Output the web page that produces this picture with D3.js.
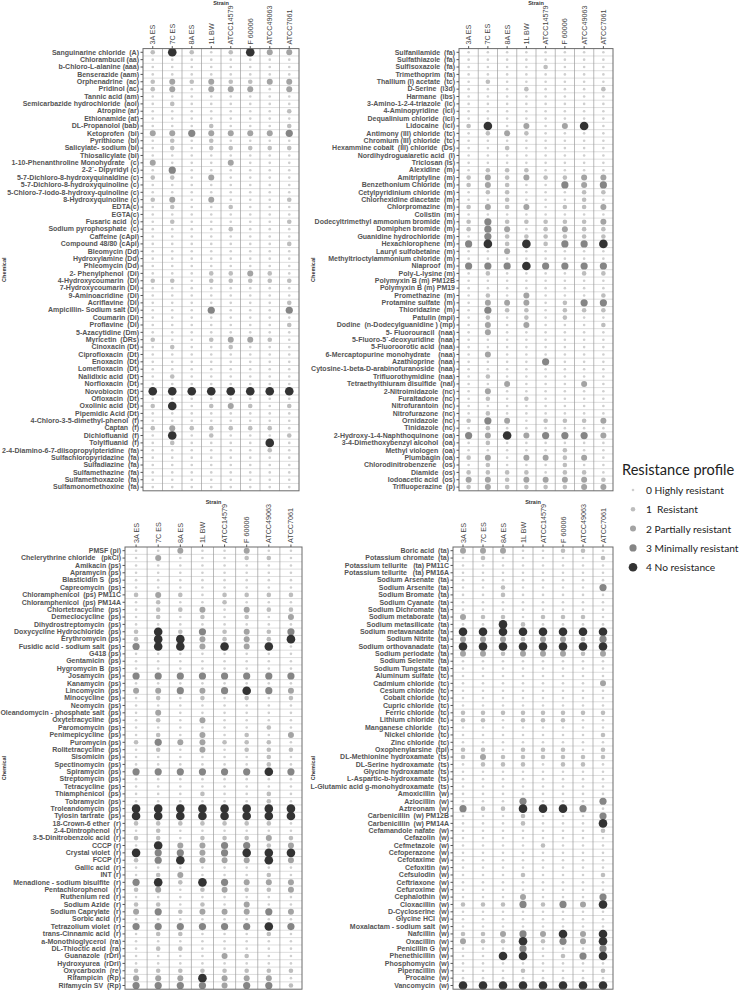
<!DOCTYPE html>
<html>
<head>
<meta charset="utf-8">
<script src="https://cdn.jsdelivr.net/npm/d3@7"></script>
<style>
  body { margin: 0; background: #fff; }
  text { font-family: "Liberation Sans", Arial, sans-serif; }
</style>
</head>
<body>
<div id="chart"></div>
<script>
//// data
var strains = ["3A ES", "7C ES", "8A ES", "1L BW", "ATCC14579", "F 60006", "ATCC49063", "ATCC7061"];

var levels = [0, 1, 2, 3, 4];
var levelLabels = ["Highly resistant", " Resistant", "Partially resistant", "Minimally resistant", "No resistance"];

// top left
var chemA = ["Sanguinarine chloride  (A)", "Chlorambucil (aa)", "b-Chloro-L-alanine (aaa)", "Benserazide (aam)",
  "Orphenadrine  (ac)", "Pridinol (ac)", "Tannic acid (am)", "Semicarbazide hydrochloride  (aoi)", "Atropine (ar)",
  "Ethionamide (at)", "DL-Propanolol (bab)", "Ketoprofen  (bi)", "Pyrithione  (bi)", "Salicylate- sodium (bi)",
  "Thiosalicylate (bi)", "1-10-Phenanthroline Monohydrate   (c)", "2-2`- Dipyridyl (c)",
  "5-7-Dichloro-8-hydroxyquinaldine (c)", "5-7-Dichloro-8-hydroxyquinoline (c)",
  "5-Chloro-7-iodo-8-hydroxy-quinoline (c)", "8-Hydroxyquinoline (c)", "EDTA(c)", "EGTA(c)", "Fusaric acid  (c)",
  "Sodium pyrophosphate  (c)", "Caffeine (cApi)", "Compound 48/80 (cApi)", "Bleomycin (Dd)", "Hydroxylamine (Dd)",
  "Phleomycin (Dd)", "2- Phenylphenol  (Di)", "4-Hydroxycoumarin  (Di)", "7-Hydroxycoumarin (Di)",
  "9-Aminoacridine  (Di)", "Acriflavine  (Di)", "Ampicillin- Sodium salt (Di)", "Coumarin (Di)", "Proflavine  (Di)",
  "5-Azacytidine (Dm)", "Myricetin  (DRs)", "Cinoxacin (Dt)", "Ciprofloxacin  (Dt)", "Enoxacin  (Dt)",
  "Lomefloxacin  (Dt)", "Nalidixic acid  (Dt)", "Norfloxacin  (Dt)", "Novobiocin  (Dt)", "Ofloxacin  (Dt)",
  "Oxolinic acid  (Dt)", "Pipemidic Acid (Dt)", "4-Chloro-3-5-dimethyl-phenol  (f)", "Captan  (f)",
  "Dichlofluanid  (f)", "Tolylfluanid  (f)", "2-4-Diamino-6-7-diisopropylpteridine  (fa)",
  "Sulfachloropyridazine  (fa)", "Sulfadiazine  (fa)", "Sulfamethazine  (fa)", "Sulfamethoxazole  (fa)",
  "Sulfamonomethoxine  (fa)"];
var valsA = [
  [1,4,1,0,1,4,2,2],[0,0,0,0,0,0,0,0],[0,0,0,0,0,0,0,0],[0,0,0,0,0,0,0,0],[1,2,1,2,1,1,2,2],
  [1,2,0,2,2,2,0,2],[0,0,0,0,0,0,0,0],[0,1,0,0,0,0,0,0],[0,0,0,0,0,0,0,1],[0,0,0,0,0,0,0,0],
  [0,0,0,1,0,0,0,1],[2,2,3,2,2,2,2,3],[0,1,0,1,0,0,0,0],[0,1,0,1,1,1,1,1],[0,0,0,0,0,0,0,0],
  [2,0,0,0,2,0,0,0],[0,3,0,0,0,0,0,0],[1,1,0,2,0,0,0,0],[0,0,0,0,0,0,0,0],[0,0,0,0,0,0,0,0],
  [1,2,0,2,0,0,0,1],[0,1,0,0,1,0,0,0],[0,0,0,0,0,0,0,0],[0,1,0,0,0,0,0,1],[0,0,0,0,1,0,0,0],
  [0,0,0,0,0,0,0,0],[0,0,0,0,0,0,0,1],[0,0,0,0,0,0,0,0],[0,0,0,0,0,0,0,0],[0,0,0,0,0,0,0,0],
  [0,0,0,1,1,2,1,0],[1,1,0,1,1,1,1,1],[0,0,0,0,0,0,0,0],[0,0,0,0,0,0,0,0],[0,0,0,0,0,0,0,1],
  [0,0,0,3,0,0,0,3],[0,0,0,0,0,0,0,0],[0,0,0,0,0,0,0,1],[0,0,0,0,0,0,0,0],[1,0,0,1,2,2,1,0],
  [0,1,0,0,1,0,0,0],[0,0,0,0,0,0,0,0],[0,0,0,0,0,0,0,0],[0,0,0,0,0,0,0,0],[0,1,0,0,0,0,0,0],
  [0,0,0,0,0,0,0,0],[4,4,4,4,4,4,4,4],[0,0,0,0,0,0,0,0],[1,4,0,1,2,1,0,1],[0,0,0,0,0,0,0,0],
  [0,0,0,0,0,0,0,0],[1,2,1,1,1,1,1,0],[0,4,0,1,0,0,0,1],[0,1,0,0,0,0,4,0],[0,0,0,0,0,0,1,0],
  [0,0,0,0,0,0,0,0],[0,0,0,0,0,0,0,0],[0,0,0,0,0,0,0,0],[0,0,0,0,0,0,0,0],[0,0,0,0,0,0,0,0]
];

// top right
var chemB = ["Sulfanilamide  (fa)", "Sulfathiazole  (fa)", "Sulfisoxazole  (fa)", "Trimethoprim  (fa)",
  "Thallium (I) acetate  (tc)", "D-Serine  (i3d)", "Harmane  (ibs)", "3-Amino-1-2-4-triazole  (ic)",
  "4-Aminopyridine  (ici)", "Dequalinium chloride  (ici)", "Lidocaine  (ici)", "Antimony (III) chloride  (tc)",
  "Chromium (III) chloride  (tc)", "Hexammine cobalt  (III) chloride  (Ds)", "Nordihydroguaiaretic acid  (I)",
  "Triclosan (Is)", "Alexidine  (m)", "Amitriptyline  (m)", "Benzethonium Chloride  (m)",
  "Cetylpyridinium chloride  (m)", "Chlorhexidine diacetate  (m)", "Chlorpromazine  (m)", "Colistin  (m)",
  "Dodecyltrimethyl ammonium bromide  (m)", "Domiphen bromide  (m)", "Guanidine hydrochloride  (m)",
  "Hexachlorophene  (m)", "Lauryl sulfobetaine  (m)", "Methyltrioctylammonium chloride  (m)", "Niaproof  (m)",
  "Poly-L-lysine (m)", "Polymyxin B (m) PM12B", "Polymyxin B (m) PM19", "Promethazine  (m)",
  "Protamine sulfate  (m)", "Thioridazine  (m)", "Patulin (mpi)", "Dodine  (n-Dodecylguanidine ) (mp)",
  "5- Fluorouracil  (naa)", "5-Fluoro-5`-deoxyuridine  (naa)", "5-Fluoroorotic acid  (naa)",
  "6-Mercaptopurine monohydrate    (naa)", "Azathioprine  (naa)", "Cytosine-1-beta-D-arabinofuranoside  (naa)",
  "Trifluorothymidine  (naa)", "Tetraethylthiuram disulfide  (nal)", "2-Nitroimidazole  (nc)", "Furaltadone  (nc)",
  "Nitrofurantoin  (nc)", "Nitrofurazone  (nc)", "Ornidazole  (nc)", "Tinidazole  (nc)",
  "2-Hydroxy-1-4-Naphthoquinone  (oa)", "3-4-Dimethoxybenzyl alcohol  (oa)", "Methyl viologen  (oa)",
  "Plumbagin (oa)", "Chlorodinitrobenzene   (os)", "Diamide  (os)", "Iodoacetic acid  (os)", "Trifluoperazine  (p)"];
var valsB = [
  [0,0,0,0,0,0,0,0],[0,0,0,0,0,0,0,0],[0,0,0,0,1,0,0,0],[0,0,0,0,0,0,0,0],[0,1,0,0,0,0,0,0],
  [0,0,0,1,0,0,0,1],[0,0,0,0,0,0,0,0],[0,0,0,0,0,0,0,0],[0,0,0,0,0,0,0,0],[0,0,0,0,0,0,0,0],
  [1,4,0,2,0,2,4,0],[0,1,2,1,0,0,0,0],[0,0,0,0,0,0,0,0],[0,0,1,0,0,0,0,0],[0,0,0,0,0,0,0,0],
  [0,0,0,0,0,0,0,0],[0,1,1,1,0,0,0,0],[1,2,1,2,1,1,2,2],[1,2,1,0,0,3,2,3],[0,1,1,0,0,0,1,1],
  [0,0,1,0,0,0,1,0],[1,2,1,2,0,1,1,2],[0,0,0,0,0,0,0,0],[1,3,1,1,1,1,1,2],[1,3,2,0,1,2,1,1],
  [0,3,1,1,1,1,1,1],[3,4,1,4,1,3,3,4],[0,0,2,0,0,0,0,0],[0,0,0,0,0,0,0,0],[3,3,3,4,3,3,3,3],
  [0,1,0,0,0,0,1,1],[0,0,0,0,0,0,0,0],[0,0,0,0,0,0,0,0],[0,1,0,2,0,0,0,1],[0,2,2,2,0,1,3,3],
  [0,3,1,1,0,1,1,1],[0,1,0,1,0,1,0,0],[0,2,0,2,0,0,0,1],[0,2,0,0,0,0,0,0],[0,0,0,0,0,0,0,0],
  [0,0,0,0,0,0,0,0],[0,2,0,0,0,0,0,0],[0,0,0,0,3,0,0,0],[0,0,0,0,0,0,0,0],[0,1,0,0,0,0,0,0],
  [0,0,2,0,0,0,2,0],[0,2,0,0,0,0,0,0],[0,1,0,1,0,0,0,0],[0,0,0,0,0,0,0,0],[0,1,0,0,0,0,0,0],
  [1,3,2,0,1,1,1,2],[0,1,0,0,0,0,0,0],[3,2,4,2,3,3,3,2],[0,1,0,0,0,0,0,0],[0,0,0,0,0,1,0,0],
  [1,2,0,2,2,1,2,0],[0,1,0,0,0,1,0,0],[1,1,1,1,0,1,1,0],[2,2,1,2,2,2,2,1],[1,2,1,1,1,1,2,2]
];

// bottom left
var chemC = ["PMSF (pi)", "Chelerythrine chloride   (pkCi)", "Amikacin (ps)", "Apramycin (ps)", "Blasticidin S  (ps)",
  "Capreomycin  (ps)", "Chloramphenicol  (ps) PM11C", "Chloramphenicol  (ps) PM14A", "Chlortetracycline  (ps)",
  "Demeclocycline  (ps)", "Dihydrostreptomycin  (ps)", "Doxycycline Hydrochloride  (ps)", "Erythromycin (ps)",
  "Fusidic acid - sodium salt  (ps)", "G418 (ps)", "Gentamicin  (ps)", "Hygromycin B  (ps)", "Josamycin  (ps)",
  "Kanamycin  (ps)", "Lincomycin  (ps)", "Minocycline  (ps)", "Neomycin  (ps)", "Oleandomycin - phosphate salt  (ps)",
  "Oxytetracycline  (ps)", "Paromomycin  (ps)", "Penimepicycline  (ps)", "Puromycin (ps)", "Rolitetracycline  (ps)",
  "Sisomicin  (ps)", "Spectinomycin  (ps)", "Spiramycin  (ps)", "Streptomycin  (ps)", "Tetracycline  (ps)",
  "Thiamphenicol  (ps)", "Tobramycin  (ps)", "Troleandomycin  (ps)", "Tylosin tartrate  (ps)",
  "18-Crown-6 ether  (r)", "2-4-Dintrophenol  (r)", "3-5-Dinitrobenzoic acid  (r)", "CCCP (r)",
  "Crystal violet  (r)", "FCCP (r)", "Gallic acid  (r)", "INT (r)", "Menadione - sodium bisulfite  (r)",
  "Pentachlorophenol   (r)", "Ruthenium red  (r)", "Sodium Azide  (r)", "Sodium Caprylate  (r)",
  "Sorbic acid  (r)", "Tetrazolium violet  (r)", "trans-Cinnamic acid  (r)", "a-Monothioglycerol  (ra)",
  "DL-Thioctic acid  (ra)", "Guanazole  (rDri)", "Hydroxyurea  (rDri)", "Oxycarboxin  (re)", "Rifampicin  (Rp)",
  "Rifamycin SV  (Rp)"];
var valsC = [
  [0,0,2,0,0,2,0,0],[0,2,0,0,0,1,1,0],[0,0,0,0,0,0,0,0],[0,0,0,0,0,0,0,0],[0,0,0,0,0,0,0,0],
  [0,0,0,0,0,0,0,0],[1,2,1,0,1,1,1,1],[0,1,0,0,1,0,0,0],[0,1,1,2,0,2,1,1],[0,1,0,1,0,1,0,2],
  [0,0,0,0,0,0,0,0],[1,4,1,3,1,2,1,3],[1,4,4,2,1,2,1,4],[3,4,4,2,4,2,4,0],[0,0,0,0,0,0,0,0],
  [0,0,0,0,0,0,0,0],[0,0,0,0,0,0,0,0],[3,3,3,3,3,3,3,3],[0,0,0,0,0,0,0,0],[2,2,3,2,3,4,3,2],
  [0,1,0,1,0,1,0,1],[0,0,0,0,0,0,0,0],[0,2,0,0,0,0,0,0],[0,1,0,2,0,0,0,0],[0,0,0,0,0,0,1,0],
  [0,1,0,2,0,1,0,2],[1,3,2,2,1,1,1,0],[0,1,0,2,0,1,1,1],[0,0,0,0,0,0,1,0],[0,0,0,0,0,0,1,0],
  [3,3,3,3,3,3,4,3],[0,0,0,0,0,0,0,0],[0,0,0,0,0,0,0,0],[0,0,0,1,0,0,1,0],[0,0,0,0,0,0,1,0],
  [4,4,4,4,4,4,4,4],[4,4,4,4,4,4,4,4],[1,1,1,1,1,1,1,0],[0,1,0,0,0,0,0,0],[1,1,0,1,1,1,2,1],
  [0,4,2,2,3,3,1,2],[4,3,3,2,3,4,4,4],[1,3,4,2,2,2,4,2],[0,0,0,0,0,0,0,0],[0,1,2,0,0,0,1,0],
  [3,4,1,4,3,2,2,2],[1,2,0,1,2,1,1,2],[0,0,0,0,0,0,0,0],[1,1,0,1,0,2,0,0],[2,3,1,2,2,2,3,2],
  [0,0,0,0,0,0,0,0],[3,3,3,3,3,3,4,3],[0,1,1,0,0,0,1,0],[0,0,0,0,0,0,0,0],[0,1,1,0,0,0,0,0],
  [0,0,0,0,2,1,0,0],[0,0,0,0,0,0,0,0],[1,1,1,1,1,1,1,1],[2,2,2,4,2,2,2,0],[3,3,3,3,2,3,3,1]
];

// bottom right
var chemD = ["Boric acid  (ta)", "Potassium chromate  (ta)", "Potassium tellurite   (ta) PM11C",
  "Potassium tellurite   (ta) PM16A", "Sodium Arsenate  (ta)", "Sodium Arsenite  (ta)", "Sodium Bromate  (ta)",
  "Sodium Cyanate  (ta)", "Sodium Dichromate  (ta)", "Sodium metaborate  (ta)", "Sodium metasilicate  (ta)",
  "Sodium metavanadate  (ta)", "Sodium Nitrite  (ta)", "Sodium orthovanadate  (ta)", "Sodium periodate  (ta)",
  "Sodium Selenite  (ta)", "Sodium Tungstate  (ta)", "Aluminum sulfate  (tc)", "Cadmium chloride  (tc)",
  "Cesium chloride  (tc)", "Cobalt chloride  (tc)", "Cupric chloride  (tc)", "Ferric chloride  (tc)",
  "Lithium chloride  (tc)", "Manganese chloride   (tc)", "Nickel chloride  (tc)", "Zinc chloride  (tc)",
  "Oxophenylarsine  (tpi)", "DL-Methionine hydroxamate  (ts)", "DL-Serine hydroxamate  (ts)",
  "Glycine hydroxamate  (ts)", "L-Aspartic-b-hydroxamate  (ts)", "L-Glutamic acid g-monohydroxamate  (ts)",
  "Amoxicillin  (w)", "Azlocillin  (w)", "Aztreonam  (w)", "Carbenicillin  (w) PM12B", "Carbenicillin  (w) PM14A",
  "Cefamandole nafate  (w)", "Cefazolin  (w)", "Cefmetazole  (w)", "Cefoperazone  (w)", "Cefotaxime  (w)",
  "Cefoxitin  (w)", "Cefsulodin  (w)", "Ceftriaxone  (w)", "Cefuroxime  (w)", "Cephalothin  (w)",
  "Cloxacillin  (w)", "D-Cycloserine  (w)", "Glycine HCl  (w)", "Moxalactam - sodium salt  (w)",
  "Nafcillin  (w)", "Oxacillin  (w)", "Penicillin G  (w)", "Phenethicillin  (w)", "Phosphomycin  (w)",
  "Piperacillin  (w)", "Procaine  (w)", "Vancomycin  (w)"];
var valsD = [
  [2,2,2,0,0,1,1,0],[0,1,0,0,0,0,0,1],[0,0,0,0,0,0,0,0],[0,0,0,0,0,0,0,0],[0,0,0,0,0,0,0,0],
  [0,0,1,0,0,0,0,3],[0,0,1,0,0,0,0,0],[0,0,0,0,0,0,0,0],[0,0,0,0,0,0,0,0],[2,1,1,0,1,1,1,0],
  [0,0,4,1,0,0,0,0],[4,4,4,4,4,4,4,4],[2,2,2,1,2,2,1,3],[4,4,4,4,4,4,4,4],[2,2,1,2,2,2,1,2],
  [0,0,0,0,0,0,0,0],[0,0,0,0,0,0,0,0],[0,0,0,0,0,0,0,0],[0,0,0,0,0,0,0,2],[0,0,0,0,0,0,0,0],
  [0,0,0,0,0,0,0,0],[0,0,0,0,0,0,0,0],[1,1,1,1,1,1,1,1],[1,1,0,1,1,1,0,0],[0,0,0,0,0,0,0,0],
  [0,0,0,0,0,0,0,1],[0,0,0,0,0,0,0,0],[1,1,0,1,1,1,0,1],[1,2,1,1,1,1,1,1],[0,1,1,1,0,1,1,0],
  [0,0,0,0,0,0,0,0],[0,0,0,0,0,0,0,0],[0,0,0,0,0,0,0,0],[0,0,0,0,0,0,0,0],[0,0,0,3,0,0,0,3],
  [3,1,1,4,4,4,3,0],[0,0,0,1,0,0,0,3],[0,0,0,1,0,0,0,4],[0,0,0,0,0,0,0,1],[0,0,0,0,0,0,0,0],
  [0,0,0,0,1,0,0,0],[0,0,0,0,0,0,0,0],[0,0,0,0,0,0,0,0],[0,0,0,0,0,0,0,0],[0,0,0,1,0,0,0,1],
  [0,0,0,0,0,0,0,0],[0,0,0,0,0,0,0,0],[0,0,0,2,0,0,0,3],[1,1,1,3,1,3,2,4],[0,0,0,0,0,0,0,0],
  [0,0,0,0,0,0,0,0],[0,0,0,0,0,0,0,0],[1,1,2,3,2,4,2,4],[2,1,1,4,1,3,2,4],[0,0,0,3,0,0,0,3],
  [0,0,4,4,0,1,3,4],[0,0,0,0,0,0,0,0],[0,0,0,1,0,0,0,1],[0,0,0,0,0,0,0,0],[4,4,4,4,4,4,4,4]
];

//// chart
var width = 742, height = 991;

var svg = d3.select("#chart")
  .append("svg")
    .attr("width", width)
    .attr("height", height);

var rScale = d3.scaleOrdinal().domain(levels).range([1.3, 2.3, 3.0, 3.6, 4.3]);
var color = d3.scaleOrdinal().domain(levels).range(["#cfcfcf", "#bdbdbd", "#a3a3a3", "#858585", "#333333"]);

// panel placement
var panels = [
  {chem: chemA, vals: valsA, x0: 143, x1: 299, y0: 48.6, y1: 490.8, titleX: 4},
  {chem: chemB, vals: valsB, x0: 459, x1: 613, y0: 48.6, y1: 490.8, titleX: 313},
  {chem: chemC, vals: valsC, x0: 125, x1: 302, y0: 547, y1: 989.2, titleX: 4},
  {chem: chemD, vals: valsD, x0: 453, x1: 613, y0: 547, y1: 989.2, titleX: 313}
];

panels.forEach(function(p) {
  var x = d3.scaleBand().domain(strains).range([p.x0, p.x1]);
  var y = d3.scaleBand().domain(p.chem).range([p.y0, p.y1]);
  var g = svg.append("g");

  // row lines
  g.selectAll(".hline")
      .data(p.chem.slice(1))
    .enter().append("line")
      .attr("x1", p.x0).attr("x2", p.x1)
      .attr("y1", function(d) { return y(d); })
      .attr("y2", function(d) { return y(d); })
      .attr("stroke", "#d6d6d6")
      .attr("stroke-width", 0.8);

  // column lines
  g.selectAll(".vline")
      .data(strains.slice(1))
    .enter().append("line")
      .attr("x1", function(d) { return x(d); })
      .attr("x2", function(d) { return x(d); })
      .attr("y1", p.y0).attr("y2", p.y1)
      .attr("stroke", "#9c9c9c")
      .attr("stroke-width", 0.7);

  // dots
  var cells = [];
  p.chem.forEach(function(c, i) {
    strains.forEach(function(s, j) {
      cells.push({chem: c, strain: s, v: p.vals[i][j]});
    });
  });

  g.selectAll(".dot")
      .data(cells)
    .enter().append("circle")
      .attr("class", "dot")
      .attr("cx", function(d) { return x(d.strain) + x.bandwidth() / 2; })
      .attr("cy", function(d) { return y(d.chem) + y.bandwidth() / 2; })
      .attr("r", function(d) { return rScale(d.v); })
      .style("fill", function(d) { return color(d.v); });

  // frame
  g.append("rect")
    .attr("x", p.x0).attr("y", p.y0)
    .attr("width", p.x1 - p.x0).attr("height", p.y1 - p.y0)
    .attr("fill", "none")
    .attr("stroke", "#6a6a6a")
    .attr("stroke-width", 1);

  // y axis
  var ya = g.append("g")
    .attr("transform", "translate(" + p.x0 + ",0)")
    .call(d3.axisLeft(y).tickSize(2.5).tickPadding(1.5));
  ya.select(".domain").remove();
  ya.selectAll("line").attr("stroke", "#555");
  ya.selectAll("text")
    .style("font-size", "7px")
    .style("font-weight", "bold")
    .style("white-space", "pre")
    .attr("fill", "#555");

  // x axis (top)
  var xa = g.append("g")
    .attr("transform", "translate(0," + p.y0 + ")")
    .call(d3.axisTop(x).tickSize(2.5));
  xa.select(".domain").remove();
  xa.selectAll("line").attr("stroke", "#555");
  xa.selectAll("text")
    .attr("transform", "rotate(-90)")
    .attr("x", 4)
    .attr("y", 0)
    .attr("dy", "0.35em")
    .style("text-anchor", "start")
    .style("font-size", "7.2px")
    .attr("fill", "#444");

  // titles
  g.append("text")
    .attr("x", (p.x0 + p.x1) / 2)
    .attr("y", p.y0 - 43.5)
    .attr("text-anchor", "middle")
    .style("font-size", "5.5px")
    .style("font-weight", "bold")
    .attr("fill", "#333")
    .text("Strain");

  g.append("text")
    .attr("transform", "translate(" + (p.titleX + 2) + "," + ((p.y0 + p.y1) / 2) + ") rotate(-90)")
    .attr("text-anchor", "middle")
    .style("font-size", "5.5px")
    .style("font-weight", "bold")
    .attr("fill", "#333")
    .text("Chemical");
});

//// legend
var legend = svg.append("g");

legend.append("text")
  .attr("x", 622)
  .attr("y", 475)
  .style("font-family", "Lato, 'Open Sans', sans-serif")
  .style("font-size", "14.6px")
  .attr("fill", "#222")
  .text("Resistance profile");

var items = legend.selectAll(".item")
    .data(levels)
  .enter().append("g")
    .attr("transform", function(d, i) { return "translate(633," + (490 + i * 19.3) + ")"; });

items.append("circle")
  .attr("r", function(d) { return rScale(d); })
  .style("fill", function(d) { return color(d); });

items.append("text")
  .attr("x", 13)
  .attr("y", 4)
  .style("font-family", "Lato, 'Open Sans', sans-serif")
  .style("font-size", "10.2px")
  .style("white-space", "pre")
  .attr("fill", "#222")
  .text(function(d, i) { return d + " " + levelLabels[i]; });
</script>
</body>
</html>
